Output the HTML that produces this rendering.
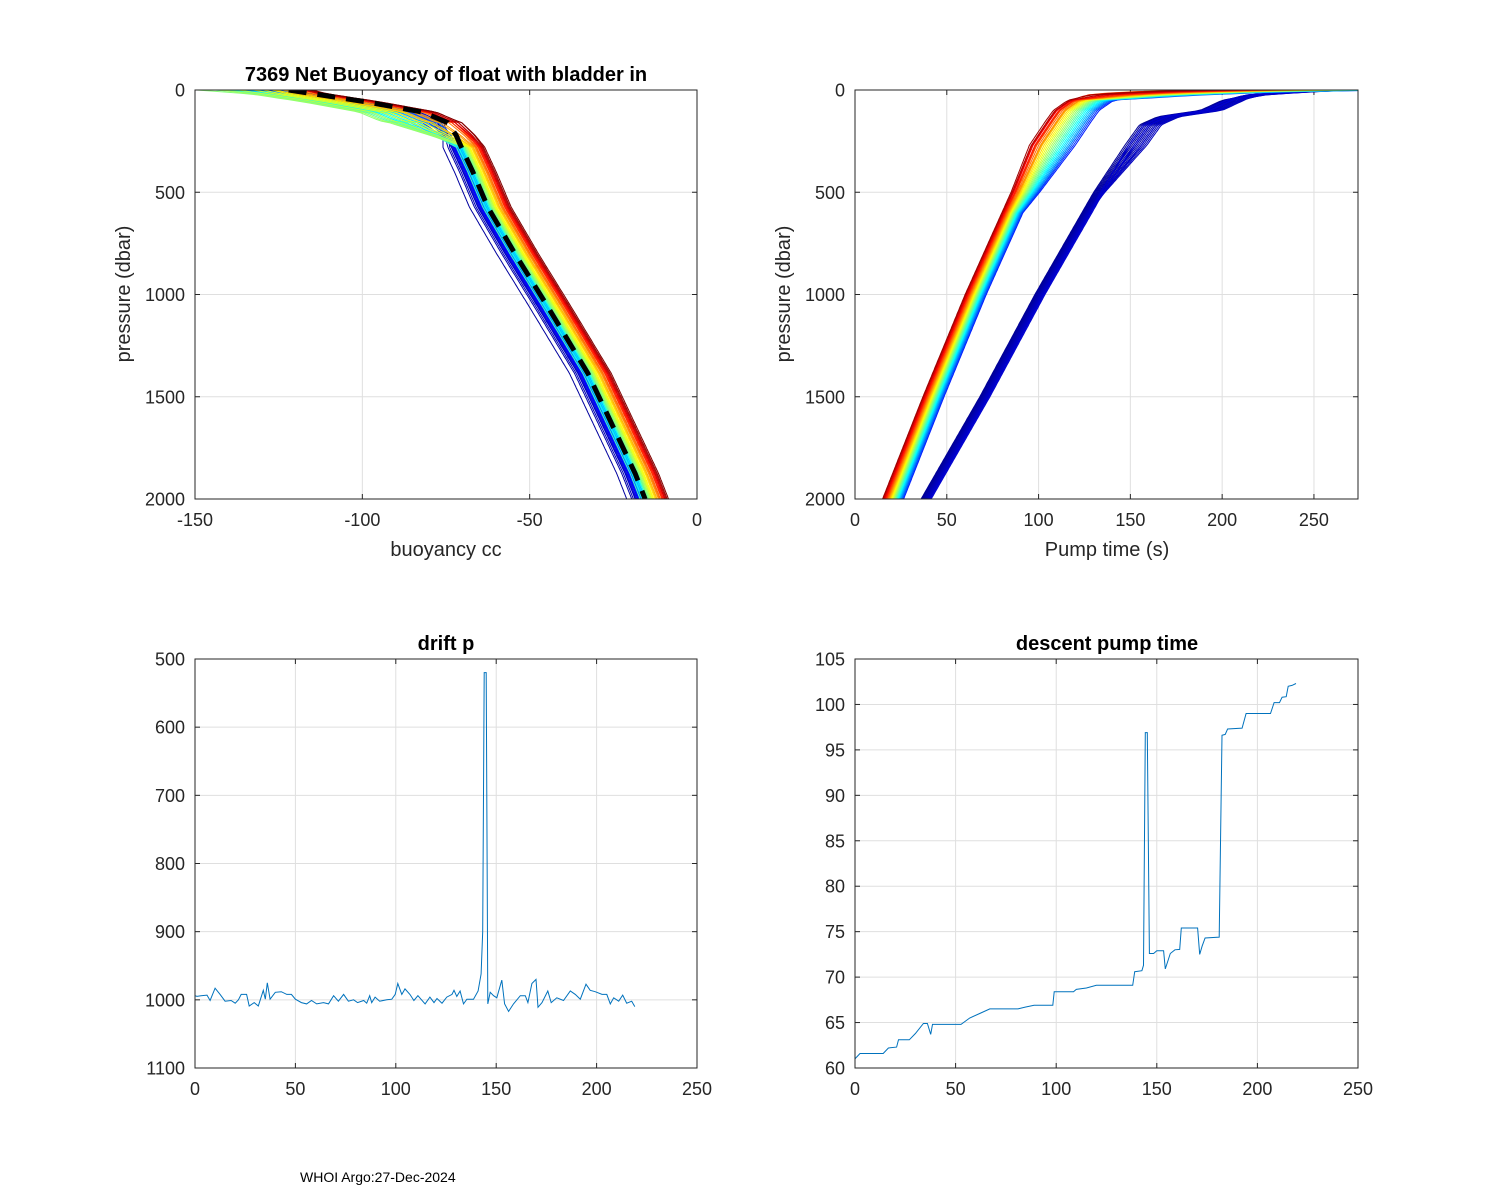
<!DOCTYPE html>
<html><head><meta charset="utf-8"><style>
html,body{margin:0;padding:0;background:#fff}
svg{display:block}
text{font-family:"Liberation Sans",Arial,sans-serif;fill:#262626}
</style></head><body>
<svg id="fig" xmlns="http://www.w3.org/2000/svg" width="1500" height="1200" viewBox="0 0 1500 1200">
<rect width="1500" height="1200" fill="#fff"/>
<defs>
<clipPath id="c1"><rect x="195" y="90" width="502" height="409"/></clipPath>
<clipPath id="c2"><rect x="855" y="90" width="503" height="409"/></clipPath>
<clipPath id="c3"><rect x="195" y="659" width="502" height="409"/></clipPath>
<clipPath id="c4"><rect x="855" y="659" width="503" height="409"/></clipPath>
</defs>
<text x="300" y="1182" font-size="14" style="fill:#000">WHOI Argo:27-Dec-2024</text>
</svg>
<script>
// ---------- data: top-left buoyancy profiles ----------
const tlPressure = [0,15,60,108,160,220,295,400,573,800,1063,1386,1875,2000];
const tlBuoyBase = [-122,-116,-98,-82,-74.5,-72,-70,-67,-62.5,-54.4,-44.5,-32.6,-18.5,-15.5];
const tlDeepOff = [-5.5,-4,-3.5,-3,-2.8,-2.5,-2.2,-2,-1.8,-1.5,-1.2,-1,-0.8,-0.5,-0.3,0,-0.5,-1,-0.2,0.3,-0.8,0.5,-1.5,0.8,1,1.2,1.5,1.8,2,2.3,2.6,3,3.3,3.6,4,4.3,4.6,5,5.2,5.5,5.8,6,6.3,6.6,7];
const tlShallowOff = [-2,-3,-1,-4,-2,-5,-3,-6,-4,-8,-2,-4,-6,-3,-5,-7,-10,-12,-9,-14,-11,-15,-13,-17,-16,-19,-18,-15,-12,-10,-8,-6,-5,-3,-2,0,1,2,1,2,3,2,3,4,4];
const tlSurfOff = [0,-5,5,-10,3,-8,2,-12,6,-15,-20,-10,-25,-5,-18,-28,-12,-20,-8,-15,-25,-10,-30,-5,-20,-28,-10,0,5,8,10,6,12,4,9,7,11,5,14,8,6,9,4,10,7];
// ---------- data: top-right pump time profiles ----------
const trPressA = [0,10,25,50,100,150,270,500,1000,1500,2000];
const trTimeA = [200,150,128,116,108,104,95,85,60,37,15];
const trDeepA = [0,0.4,0.8,1.2,1.6,2,2.4,2.8,3.2,3.6,4,4.4,4.8,5.2,5.6,6,6.4,6.8,7.2,7.6,8,8.4,8.8,9.2,9.6,10,10.4,10.8,11,11.5];
const trShallowA = [0,1,1.5,2,3,3.5,4,5,6,6.5,7,8,9,10,11,12,13,14,15,16,17,18,19,20,21,22,22,23,24,25];
const trSurfA = [0,10,-5,20,5,30,15,40,-10,25,50,35,10,60,45,20,70,55,30,65,80,40,75,60,90,50,70,85,95,60];
const trPressB = [0,10,25,50,100,130,170,270,500,1000,1500,2000];
const trTimeB = [268,240,215,200,188,165,155,147,130,98,68,36];
const trDeepB = [0,0.3,0.6,0.9,1.2,1.5,1.8,2.1,2.4,2.7,3,3.3,3.6,3.9,4.2,4.6,5,5.5];
const trShallowB = [0,1,2,3,4,5,6,7,8,9,10,11,12,3,6,9,2,5];
const trSurfB = [0,-5,3,-8,5,-2,4,-10,2,6,-4,1,-6,3,-3,5,-7,2];
// ---------- data: drift p ----------
const driftIdx = [0,1,3,6,7.5,10,12.5,15,18,20,21.6,23,25.7,27,29.5,31.5,34,35,36,37.4,40,43,45.7,48,50,53,55.6,58,60.6,64,66.5,69,71.4,74,76.4,79,81,84,85.5,87,88,89.7,92,95.5,98,99.7,101,103,104.6,107,109,111,114.6,117,119,120.5,123,125.4,128,129,130.4,132,133.7,135.4,138.7,141,142.5,143.3,144,145,145.8,147,148.7,150.3,152.8,154.2,156.2,158.6,162,164.5,165.8,167.8,169.8,170.8,172.8,175.7,177.4,180.2,183.5,186.9,189.4,191.9,194.7,196.8,199.3,202.7,205.1,206.8,208.5,211,213,215,217.5,219];
const driftVals = [994,995,994,993,1001,983,992,1002,1001,1005,1000,992,992,1009,1004,1009,986,999,975,999,989,988,992,992,999,1004,1006,1001,1006,1004,1006,994,1002,992,1002,1000,1004,1001,1005,994,1004,996,1002,1000,999,992,976,992,984,992,1001,994,1006,996,1004,998,1005,996,992,986,995,987,1006,999,999,987,962,900,520,520,1006,989,994,997,971,1006,1017,1006,994,994,1004,976,970,1011,1004,987,1004,997,1001,987,992,999,977,986,988,992,992,1006,997,1002,993,1005,1002,1010];
// ---------- data: descent pump time ----------
const pumpIdx = [0,0.8,2.5,14,16.6,20.7,21.6,27,30,34,36,37.6,38.5,52.7,57,62,67,81,84.6,89,98.3,99,108.6,110,115,120,138,139,142.6,143.4,144.3,145.3,146.3,148.4,150,153.4,154.2,156.7,159,161.4,162.2,165.8,170.3,171.3,172.5,174,181,182.4,184,185.2,192.4,194.4,206.5,208.3,211,212.3,214.3,215.3,217.2,219.2];
const pumpVals = [61,61.2,61.6,61.6,62.2,62.3,63.1,63.1,63.8,64.9,64.9,63.7,64.8,64.8,65.5,66,66.5,66.5,66.7,66.9,66.9,68.4,68.4,68.65,68.8,69.1,69.1,70.6,70.7,71.3,96.9,96.9,72.6,72.6,72.9,72.9,70.9,72.6,73,73.05,75.4,75.4,75.4,72.5,73.4,74.3,74.4,96.6,96.7,97.3,97.4,99,99,100.2,100.2,100.8,100.85,102,102.1,102.3];
// tick labels
const tlXTicks = [-150,-100,-50,0];
const pTicks = [0,500,1000,1500,2000];
const trXTicks = [0,50,100,150,200,250];
const blXTicks = [0,50,100,150,200,250];
const blYTicks = [500,600,700,800,900,1000,1100];
const brXTicks = [0,50,100,150,200,250];
const brYTicks = [60,65,70,75,80,85,90,95,100,105];

const NS = "http://www.w3.org/2000/svg";
const svg = document.getElementById('fig');
function mk(tag, attrs, parent){
  const e = document.createElementNS(NS, tag);
  for (const k in attrs) e.setAttribute(k, attrs[k]);
  (parent||svg).appendChild(e);
  return e;
}
function lin(d0,d1,r0,r1){ return v => r0 + (v-d0)/(d1-d0)*(r1-r0); }
function interp(xs, ys, x){
  if (x<=xs[0]) return ys[0];
  for (let i=1;i<xs.length;i++){ if (x<=xs[i]) { const t=(x-xs[i-1])/(xs[i]-xs[i-1]); return ys[i-1]+t*(ys[i]-ys[i-1]); } }
  return ys[ys.length-1];
}
function jet(t){
  const c = v => Math.max(0, Math.min(1, v));
  const r = c(1.5 - Math.abs(4*t - 3));
  const g = c(1.5 - Math.abs(4*t - 2));
  const b = c(1.5 - Math.abs(4*t - 1));
  return `rgb(${Math.round(r*255)},${Math.round(g*255)},${Math.round(b*255)})`;
}

function axes(name, x0, y0, w, h, sx, sy, xt, yt){
  const g = mk('g', {});
  
  
  mk('rect', {x:x0, y:y0, width:w, height:h, fill:'#fff'}, g);
  xt.forEach(v => {
    const X = sx(v);
    const gl = mk('line', {x1:X, x2:X, y1:y0, y2:y0+h, stroke:'#dfdfdf', 'stroke-width':1}, g);
    
    
    mk('line', {x1:X, x2:X, y1:y0+h, y2:y0+h-5, stroke:'#262626', 'stroke-width':1}, g);
    mk('line', {x1:X, x2:X, y1:y0, y2:y0+5, stroke:'#262626', 'stroke-width':1}, g);
    const t = mk('text', {x:X, y:y0+h+27, 'font-size':18, 'text-anchor':'middle'}, g);
    
    
    t.textContent = v;
  });
  yt.forEach(v => {
    const Y = sy(v);
    const gl = mk('line', {x1:x0, x2:x0+w, y1:Y, y2:Y, stroke:'#dfdfdf', 'stroke-width':1}, g);
    
    
    mk('line', {x1:x0, x2:x0+5, y1:Y, y2:Y, stroke:'#262626', 'stroke-width':1}, g);
    mk('line', {x1:x0+w, x2:x0+w-5, y1:Y, y2:Y, stroke:'#262626', 'stroke-width':1}, g);
    const t = mk('text', {x:x0-10, y:Y+6.5, 'font-size':18, 'text-anchor':'end'}, g);
    
    
    t.textContent = v;
  });
  return g;
}
function frame(x0,y0,w,h){
  const f = mk('rect', {x:x0, y:y0, width:w, height:h, fill:'none', stroke:'#262626', 'stroke-width':1});
  
  
}
function label(txt, x, y, size, bold, rot, name){
  const a = {x:x, y:y, 'font-size':size, 'text-anchor':'middle'};
  if (bold) { a['font-weight'] = 'bold'; a.style = 'fill:#000'; }
  if (rot) a.transform = `rotate(-90 ${x} ${y})`;
  const t = mk('text', a);
  
  
  t.textContent = txt;
}

// ---------- top-left ----------
const tlX = lin(-150, 0, 195, 697), tlY = lin(0, 2000, 90, 499);
axes('buoyancy-axes', 195, 90, 502, 409, tlX, tlY, tlXTicks, pTicks);
const g1 = mk('g', {'clip-path':'url(#c1)'});
const N1 = tlDeepOff.length;
for (let i=0;i<N1;i++){
  const pts = [];
  for (let p=0;p<=2000;p+=8){
    let off;
    if (p<=20) off = interp([0,20],[tlSurfOff[i]*0.3+tlShallowOff[i], tlShallowOff[i]], p);
    else if (p<=150) off = tlShallowOff[i];
    else if (p>=280) off = tlDeepOff[i];
    else off = interp([150,280],[tlShallowOff[i], tlDeepOff[i]], p);
    pts.push(tlX(interp(tlPressure, tlBuoyBase, p)+off).toFixed(1)+','+tlY(p).toFixed(1));
  }
  const pl = mk('polyline', {points:pts.join(' '), fill:'none', stroke:jet(Math.pow(i/(N1-1),1.25)*0.97+0.03), 'stroke-width':1}, g1);
  
  
}
{
  const pts = tlPressure.map((p,k)=> tlX(tlBuoyBase[k]).toFixed(1)+','+tlY(p).toFixed(1));
  const ml = mk('polyline', {points:pts.join(' '), fill:'none', stroke:'#000', 'stroke-width':5, 'stroke-dasharray':'18,11'}, g1);
  
  
}
frame(195,90,502,409);
label('7369 Net Buoyancy of float with bladder in', 446, 81, 20, true, false, 'chart-title-buoyancy');
label('buoyancy cc', 446, 556, 20, false, false, 'x-axis-title-buoyancy');
label('pressure (dbar)', 130, 294, 20, false, true, 'y-axis-title-buoyancy');

// ---------- top-right ----------
const trX = lin(0, 274, 855, 1358), trY = lin(0, 2000, 90, 499);
axes('pump-time-axes', 855, 90, 503, 409, trX, trY, trXTicks, pTicks);
const g2 = mk('g', {'clip-path':'url(#c2)'});
function pumpOff(p, surf, sh, dp){
  if (p<=50) return interp([0,50],[surf, sh], p);
  if (p<=270) return sh;
  if (p>=600) return dp;
  return interp([270,600],[sh, dp], p);
}
const NB = trDeepB.length;
for (let i=0;i<NB;i++){
  const pts=[];
  for (let p=0;p<=2000;p+=8) pts.push(trX(interp(trPressB, trTimeB, p)+pumpOff(p, trSurfB[i], trShallowB[i], trDeepB[i])).toFixed(1)+','+trY(p).toFixed(1));
  const pl = mk('polyline', {points:pts.join(' '), fill:'none', stroke:jet(0.02+0.06*i/(NB-1)), 'stroke-width':1}, g2);
  
  
}
const NA = trDeepA.length;
for (let i=NA-1;i>=0;i--){
  const pts=[];
  for (let p=0;p<=2000;p+=8) pts.push(trX(interp(trPressA, trTimeA, p)+pumpOff(p, trSurfA[i], trShallowA[i], trDeepA[i])).toFixed(1)+','+trY(p).toFixed(1));
  const pl = mk('polyline', {points:pts.join(' '), fill:'none', stroke:jet(0.97-0.82*i/(NA-1)), 'stroke-width':1}, g2);
  
  
}
frame(855,90,503,409);
label('Pump time (s)', 1107, 556, 20, false, false, 'x-axis-title-pump');
label('pressure (dbar)', 790, 294, 20, false, true, 'y-axis-title-pump');

// ---------- bottom-left ----------
const blX = lin(0, 250, 195, 697), blY = lin(500, 1100, 659, 1068);
axes('drift-p-axes', 195, 659, 502, 409, blX, blY, blXTicks, blYTicks);
const g3 = mk('g', {'clip-path':'url(#c3)'});
{
  const pts = driftIdx.map((x,k)=> blX(x).toFixed(1)+','+blY(driftVals[k]).toFixed(1));
  const pl = mk('polyline', {points:pts.join(' '), fill:'none', stroke:'#0072BD', 'stroke-width':1}, g3);
  
  
}
frame(195,659,502,409);
label('drift p', 446, 650, 20, true, false, 'chart-title-drift-p');

// ---------- bottom-right ----------
const brX = lin(0, 250, 855, 1358), brY = lin(60, 105, 1068, 659);
axes('descent-pump-axes', 855, 659, 503, 409, brX, brY, brXTicks, brYTicks);
const g4 = mk('g', {'clip-path':'url(#c4)'});
{
  const pts = pumpIdx.map((x,k)=> brX(x).toFixed(1)+','+brY(pumpVals[k]).toFixed(1));
  const pl = mk('polyline', {points:pts.join(' '), fill:'none', stroke:'#0072BD', 'stroke-width':1}, g4);
  
  
}
frame(855,659,503,409);
label('descent pump time', 1107, 650, 20, true, false, 'chart-title-descent-pump');
</script>
</body></html>
